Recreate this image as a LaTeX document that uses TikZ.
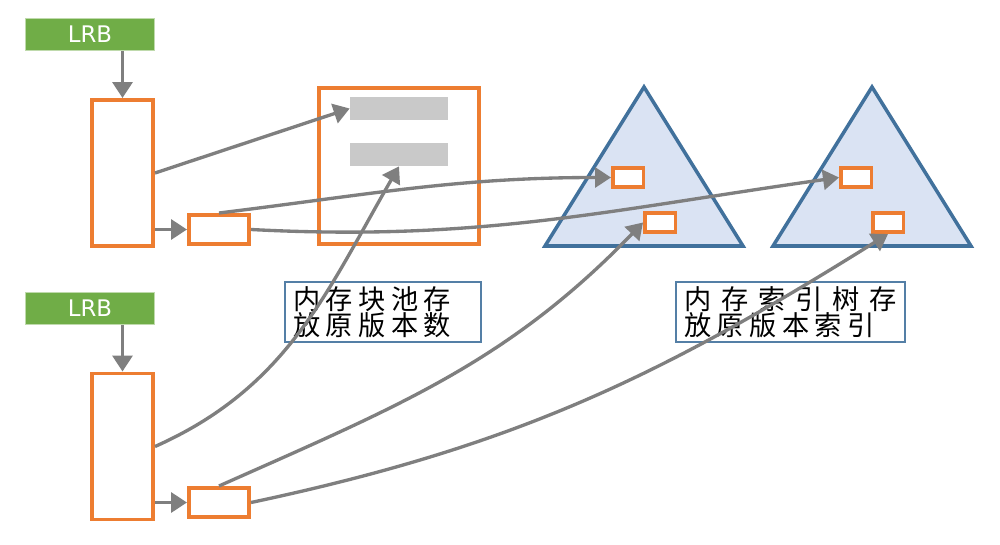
\documentclass[tikz,border=0pt]{standalone}
\usepackage{fontspec}
\setsansfont{DejaVu Sans}
\newfontfamily\cjk[LetterSpace=20]{Noto Sans CJK SC}
\usetikzlibrary{arrows.meta}
\definecolor{lrbgreen}{HTML}{70AD47}
\definecolor{boxorange}{HTML}{ED7D31}
\definecolor{arrowgray}{HTML}{7F7F7F}
\definecolor{bargray}{HTML}{C9C9C9}
\definecolor{treefill}{HTML}{DAE3F3}
\definecolor{treeblue}{HTML}{41719C}
\begin{document}
\begin{tikzpicture}[x=0.02cm,y=-0.02cm,
	lrb/.style={fill=lrbgreen,draw=lrbgreen!45!white,line width=0.6pt,text=white,
		font=\sffamily\fontsize{13}{15}\selectfont,minimum width=2.58cm,minimum height=0.64cm,inner sep=0pt},
	col/.style={draw=boxorange,fill=white,line width=2pt,minimum width=1.23cm,minimum height=2.93cm,inner sep=0pt},
	key/.style={draw=boxorange,fill=white,line width=2pt,minimum width=1.21cm,minimum height=0.59cm,inner sep=0pt},
	pool/.style={draw=boxorange,fill=white,line width=2pt,minimum width=3.21cm,minimum height=3.13cm,inner sep=0pt},
	slot/.style={draw=boxorange,fill=white,line width=2pt,minimum width=0.61cm,minimum height=0.39cm,inner sep=0pt},
	bar/.style={fill=bargray,minimum width=1.96cm,minimum height=0.46cm,inner sep=0pt},
	tree/.style={fill=treefill,draw=treeblue,line width=2pt},
	note/.style={draw=treeblue!90,line width=0.9pt,fill=white,font=\cjk\fontsize{15.5}{15}\selectfont,
		align=left,inner xsep=0.16cm,inner ysep=0pt,minimum height=1.2cm},
	link/.style={draw=arrowgray,line width=1.9pt,-{Triangle[length=0.32cm,width=0.4cm]}}]
	\useasboundingbox (0,0) rectangle (1000,544);
	% two index trees
	\draw[tree] (545,246) -- (644,87) -- (743,246) -- cycle;
	\draw[tree] (773,246) -- (872,87) -- (971,246) -- cycle;
	\node[slot] (slotAa) at (628,177.5) {};
	\node[slot] (slotAb) at (660,222.5) {};
	\node[slot] (slotBa) at (856,177.5) {};
	\node[slot] (slotBb) at (888,222.5) {};
	% upper LRB
	\node[lrb] (lrbA) at (90,34.5) {LRB};
	\node[col] (colA) at (122.5,173) {};
	\node[key] (keyA) at (219,229.5) {};
	% memory pool
	\node[pool] (pool) at (399,166) {};
	\node[bar] (barA) at (399,108.5) {};
	\node[bar] (barB) at (399,154.5) {};
	% lower LRB
	\node[lrb] (lrbB) at (90,308.5) {LRB};
	\node[col] (colB) at (122.5,446.5) {};
	\node[key] (keyB) at (219,502.5) {};
	% notes
	\node[note,text width=3.6cm] (noteA) at (383,312) {内存块池存\\放原版本数};
	\node[note,text width=4.26cm] (noteB) at (790.5,312)
		{\makebox[4.26cm][s]{内\hfil 存\hfil 索\hfil 引\hfil 树\hfil 存}\\放原版本索引};
	% arrows
	\draw[link] (lrbA.south -| colA.north) -- (colA.north);
	\draw[link] (keyA.west -| colA.east) -- (keyA.west);
	\draw[link] (colA.east) -- (barA.west);
	\draw[link] (keyA.north) to[out=7,in=180] (slotAa.west);
	\draw[link] (keyA.east) to[out=-3,in=188] (slotBa.west);
	\draw[link] (lrbB.south -| colB.north) -- (colB.north);
	\draw[link] (keyB.west -| colB.east) -- (keyB.west);
	\draw[link] (colB.east) to[out=24,in=240] (barB.south);
	\draw[link] (keyB.north) to[out=24,in=226] (slotAb.west);
	\draw[link] (keyB.east) to[out=12,in=212] (slotBb.south);
\end{tikzpicture}
\end{document}
